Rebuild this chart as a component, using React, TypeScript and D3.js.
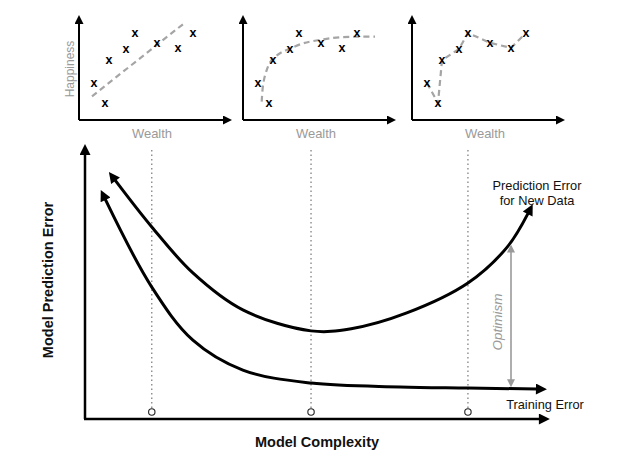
import * as d3 from "d3";
import React from "react";

// shared toy data for the three small scatter plots (wealth vs happiness)
const wealth = [1.5, 2.6, 3.0, 4.7, 5.6, 7.8, 9.9, 11.4];
const happiness = [3.6, 1.65, 5.8, 6.9, 8.45, 7.5, 7.0, 8.45];

// fit 1: straight line (underfit)
const linearFit = [
  { w: 1.3, h: 2.3 },
  { w: 10.4, h: 9.3 },
];
// fit 2: smooth saturating curve (good fit)
const smoothFit = [
  { w: 1.87, h: 1.78 },
  { w: 2.03, h: 3.56 },
  { w: 2.37, h: 4.85 },
  { w: 2.87, h: 5.83 },
  { w: 3.7, h: 6.48 },
  { w: 4.53, h: 6.86 },
  { w: 6.03, h: 7.45 },
  { w: 7.63, h: 7.77 },
  { w: 9.7, h: 8.03 },
  { w: 13.2, h: 8.09 },
];

// main chart curves (complexity vs error)
const predictionError = [
  { c: 6.4, e: 87.9 },
  { c: 14.3, e: 70.6 },
  { c: 23.1, e: 53.7 },
  { c: 33.8, e: 40.1 },
  { c: 48.4, e: 32.4 },
  { c: 57, e: 33.2 },
  { c: 68.9, e: 39.0 },
  { c: 82.0, e: 50.0 },
  { c: 90.4, e: 63.2 },
  { c: 94.9, e: 75.7 },
];
const trainingError = [
  { c: 4.3, e: 80.9 },
  { c: 14.3, e: 48.5 },
  { c: 23.1, e: 29.0 },
  { c: 33.8, e: 18.0 },
  { c: 48.4, e: 13.2 },
  { c: 67.5, e: 11.8 },
  { c: 82.0, e: 11.4 },
  { c: 96.8, e: 11.0 },
];
const modelChoices = [14.3, 48.4, 82.0];
const optimism = [14.3, 61.5];

const FONT = "'Liberation Sans', Arial, Helvetica, sans-serif";
const GRAY = "#9a9a9a";

function Mini({ x0, fit }: { x0: number; fit: "line" | "smooth" | "poly" }) {
  const xs = d3.scaleLinear([0, 14], [x0, x0 + 140]);
  const ys = d3.scaleLinear([0, 10], [120, 17]);
  const pts = wealth.map((w, i) => ({ w, h: happiness[i] }));
  let d = "";
  if (fit === "line") {
    d = d3.line<{ w: number; h: number }>().x((p) => xs(p.w)).y((p) => ys(p.h))(linearFit) ?? "";
  } else if (fit === "smooth") {
    d =
      d3
        .line<{ w: number; h: number }>()
        .x((p) => xs(p.w))
        .y((p) => ys(p.h))
        .curve(d3.curveCatmullRom)(smoothFit) ?? "";
  } else {
    d = d3.line<{ w: number; h: number }>().x((p) => xs(p.w)).y((p) => ys(p.h))(pts) ?? "";
  }
  return (
    <g>
      <path d={d} fill="none" stroke="#a5a5a5" strokeWidth={2.2} strokeDasharray="6,4" />
      {pts.map((p, i) => (
        <text
          key={i}
          x={xs(p.w)}
          y={ys(p.h)}
          dy="0.32em"
          textAnchor="middle"
          fontFamily={FONT}
          fontWeight="bold"
          fontSize={12.5}
          fill="#000"
        >
          x
        </text>
      ))}
      <line x1={x0} y1={120} x2={x0} y2={24} stroke="#000" strokeWidth={2} markerEnd="url(#smallArrow)" />
      <line x1={x0} y1={120} x2={xs(14.4)} y2={120} stroke="#000" strokeWidth={2} markerEnd="url(#smallArrow)" />
      <text x={x0 + 73} y={138} textAnchor="middle" fontFamily={FONT} fontSize={13} fill={GRAY}>
        Wealth
      </text>
    </g>
  );
}

export default function App() {
  const width = 640;
  const height = 456;
  const x = d3.scaleLinear([0, 100], [85, 552]);
  const y = d3.scaleLinear([0, 100], [419, 147]);
  const curve = d3
    .line<{ c: number; e: number }>()
    .x((p) => x(p.c))
    .y((p) => y(p.e))
    .curve(d3.curveCatmullRom);

  return (
    <svg width={width} height={height} style={{ position: "absolute", left: 0, top: 0 }}>
      <defs>
        <marker id="smallArrow" viewBox="0 0 10 10" refX={0} refY={5} markerWidth={9} markerHeight={9} markerUnits="userSpaceOnUse" orient="auto">
          <path d="M0,0 L10,5 L0,10 Z" fill="#000" />
        </marker>
        <marker id="bigArrow" viewBox="0 0 10 10" refX={1} refY={5} markerWidth={13} markerHeight={11} markerUnits="userSpaceOnUse" orient="auto-start-reverse">
          <path d="M0,0 L10,5 L0,10 Z" fill="#000" />
        </marker>
        <marker id="grayArrow" viewBox="0 0 10 10" refX={1} refY={5} markerWidth={10} markerHeight={8} markerUnits="userSpaceOnUse" orient="auto-start-reverse">
          <path d="M0,0 L10,5 L0,10 Z" fill={GRAY} />
        </marker>
      </defs>
      <rect width={width} height={height} fill="#fff" />

      <Mini x0={79} fit="line" />
      <Mini x0={243} fit="smooth" />
      <Mini x0={412} fit="poly" />
      <text
        transform="translate(70,69) rotate(-90)"
        textAnchor="middle"
        dy="0.35em"
        fontFamily={FONT}
        fontSize={12}
        fill={GRAY}
      >
        Happiness
      </text>

      {/* dotted guides from chosen models */}
      {modelChoices.map((c) => (
        <g key={c}>
          <line x1={x(c)} x2={x(c)} y1={150} y2={408} stroke="#777" strokeWidth={1.2} strokeDasharray="1.5,3" />
          <circle cx={x(c)} cy={412} r={3.2} fill="#fff" stroke="#222" strokeWidth={1.1} />
        </g>
      ))}

      {/* main axes */}
      <line x1={85} y1={419} x2={85} y2={154} stroke="#000" strokeWidth={2.5} markerEnd="url(#bigArrow)" />
      <line x1={84} y1={419} x2={540} y2={419} stroke="#000" strokeWidth={2.5} markerEnd="url(#bigArrow)" />

      {/* curves */}
      <path d={curve(predictionError) ?? ""} fill="none" stroke="#000" strokeWidth={3} markerStart="url(#bigArrow)" markerEnd="url(#bigArrow)" />
      <path d={curve(trainingError) ?? ""} fill="none" stroke="#000" strokeWidth={3} markerStart="url(#bigArrow)" markerEnd="url(#bigArrow)" />

      {/* optimism gap */}
      <line
        x1={511}
        x2={511}
        y1={y(optimism[1])}
        y2={y(optimism[0])}
        stroke={GRAY}
        strokeWidth={1.6}
        markerStart="url(#grayArrow)"
        markerEnd="url(#grayArrow)"
      />
      <text
        transform="translate(497,322) rotate(-90)"
        textAnchor="middle"
        dy="0.35em"
        fontFamily={FONT}
        fontStyle="italic"
        fontSize={13.5}
        fill={GRAY}
      >
        Optimism
      </text>

      <text x={537} y={190} textAnchor="middle" fontFamily={FONT} fontSize={12.8} fill="#111">
        Prediction Error
      </text>
      <text x={537} y={205} textAnchor="middle" fontFamily={FONT} fontSize={12.8} fill="#111">
        for New Data
      </text>
      <text x={545} y={409} textAnchor="middle" fontFamily={FONT} fontSize={12.8} fill="#111">
        Training Error
      </text>

      <text x={317} y={447} textAnchor="middle" fontFamily={FONT} fontWeight="bold" fontSize={14.5} fill="#111">
        Model Complexity
      </text>
      <text
        transform="translate(48,280) rotate(-90)"
        textAnchor="middle"
        dy="0.35em"
        fontFamily={FONT}
        fontWeight="bold"
        fontSize={14.5}
        fill="#111"
      >
        Model Prediction Error
      </text>
    </svg>
  );
}
